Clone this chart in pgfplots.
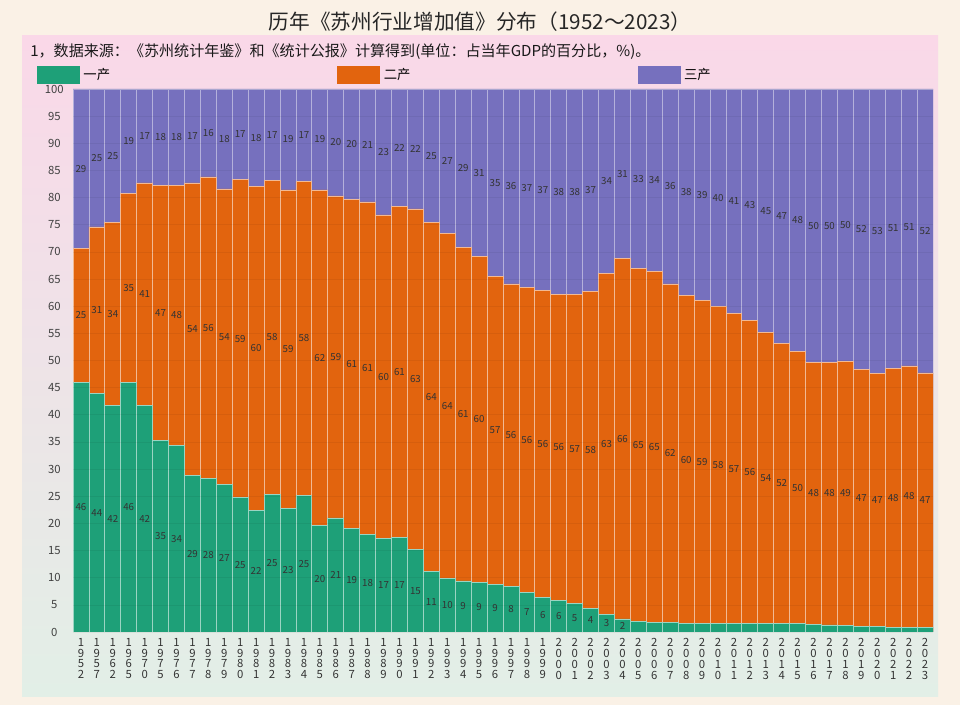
\documentclass[border=0pt]{standalone}
\usepackage{pgfplots}
\pgfplotsset{compat=1.18}
\usepackage{pgfplotstable}
\usepackage{fontspec}
\setmainfont{Noto Sans CJK SC}
\definecolor{cP}{RGB}{30,160,120}
\definecolor{cS}{RGB}{226,100,14}
\definecolor{cT}{RGB}{118,112,190}
\definecolor{bgout}{RGB}{250,241,230}
\definecolor{bgtop}{RGB}{250,216,232}
\definecolor{bgbot}{RGB}{226,239,231}
\def\vd#1#2#3#4{#1\\#2\\#3\\#4}
\pgfplotstableread[col sep=comma]{
idx,p,s,t,pl,sl,tl
0,45.9,24.8,29.3,46,25,29
1,44.0,30.6,25.4,44,31,25
2,41.7,33.7,24.6,42,34,25
3,45.9,34.8,19.3,46,35,19
4,41.7,41.0,17.3,42,41,17
5,35.3,47.0,17.7,35,47,18
6,34.3,48.0,17.7,34,48,18
7,28.8,53.9,17.3,29,54,17
8,28.2,55.6,16.2,28,56,16
9,27.2,54.4,18.4,27,54,18
10,24.7,58.6,16.7,25,59,17
11,22.4,59.7,17.9,22,60,18
12,25.3,57.9,16.8,25,58,17
13,22.8,58.6,18.6,23,59,19
14,25.2,57.7,17.1,25,58,17
15,19.6,61.8,18.6,20,62,19
16,21.0,59.3,19.7,21,59,20
17,19.0,60.7,20.3,19,61,20
18,17.9,61.3,20.8,18,61,21
19,17.2,59.6,23.2,17,60,23
20,17.4,60.9,21.7,17,61,22
21,15.2,62.7,22.1,15,63,22
22,11.2,64.2,24.6,11,64,25
23,9.8,63.6,26.6,10,64,27
24,9.4,61.5,29.1,9,61,29
25,9.1,60.1,30.8,9,60,31
26,8.8,56.6,34.6,9,57,35
27,8.4,55.7,35.9,8,56,36
28,7.2,56.2,36.6,7,56,37
29,6.4,56.5,37.1,6,56,37
30,5.8,56.4,37.8,6,56,38
31,5.2,56.9,37.9,5,57,38
32,4.3,58.4,37.3,4,58,37
33,3.3,62.7,34.0,3,63,34
34,2.4,66.4,31.2,2,66,31
35,2.0,65.0,33.0,,65,33
36,1.8,64.6,33.6,,65,34
37,1.7,62.4,35.9,,62,36
38,1.6,60.3,38.1,,60,38
39,1.6,59.4,39.0,,59,39
40,1.6,58.3,40.1,,58,40
41,1.5,57.1,41.4,,57,41
42,1.5,55.8,42.7,,56,43
43,1.5,53.7,44.8,,54,45
44,1.5,51.7,46.8,,52,47
45,1.5,50.1,48.4,,50,48
46,1.4,48.3,50.3,,48,50
47,1.3,48.4,50.3,,48,50
48,1.2,48.7,50.1,,49,50
49,1.0,47.4,51.6,,47,52
50,1.0,46.6,52.4,,47,53
51,0.9,47.7,51.4,,48,51
52,0.9,48.1,51.0,,48,51
53,0.8,46.9,52.3,,47,52
}\data
\begin{document}
\begin{tikzpicture}[x=1pt,y=1pt]
\fill[bgout] (0,0) rectangle (720,528.75);
\shade[top color=bgtop,bottom color=bgbot,middle color=bgtop!50!bgbot] (16.5,6) rectangle (703.5,501.75);
\node[font=\fontsize{15.5}{15.5}\selectfont, text=black!85] at (360,512.25) {历年《苏州行业增加值》分布（1952～2023）};
\node[anchor=west, font=\fontsize{11.3}{11.3}\selectfont, text=black!90, inner sep=0pt] at (22.5,489.75) {1，数据来源：《苏州统计年鉴》和《统计公报》计算得到(单位：占当年GDP的百分比，\%)。};
\begin{axis}[
  at={(54.75pt,54.75pt)}, anchor=south west,
  scale only axis, width=645pt, height=407.25pt,
  xmin=-0.5, xmax=53.5, ymin=0, ymax=100,
  axis line style={draw=none},
  major tick length=0pt,
  ytick={0,5,...,100},
  yticklabel style={font=\fontsize{8.5}{8.5}\selectfont, text=black!75, anchor=center, xshift=-14pt},
  /pgf/number format/assume math mode=true,
  xtick={0,...,53},
  xticklabels={{\vd1952},{\vd1957},{\vd1962},{\vd1965},{\vd1970},{\vd1975},{\vd1976},{\vd1977},{\vd1978},{\vd1979},{\vd1980},{\vd1981},{\vd1982},{\vd1983},{\vd1984},{\vd1985},{\vd1986},{\vd1987},{\vd1988},{\vd1989},{\vd1990},{\vd1991},{\vd1992},{\vd1993},{\vd1994},{\vd1995},{\vd1996},{\vd1997},{\vd1998},{\vd1999},{\vd2000},{\vd2001},{\vd2002},{\vd2003},{\vd2004},{\vd2005},{\vd2006},{\vd2007},{\vd2008},{\vd2009},{\vd2010},{\vd2011},{\vd2012},{\vd2013},{\vd2014},{\vd2015},{\vd2016},{\vd2017},{\vd2018},{\vd2019},{\vd2020},{\vd2021},{\vd2022},{\vd2023}},
  xticklabel style={font=\fontsize{8.5}{8.2}\selectfont, align=center, text=black!80, anchor=north, yshift=-1pt},
  ymajorgrids, grid style={black, opacity=0.05, line width=0.5pt},
  axis on top,
  legend style={at={(-0.042,1.026)}, anchor=west, draw=none, fill=none, inner sep=0pt,
    legend columns=3, font=\fontsize{10}{10}\selectfont, column sep=0pt,
    nodes={inner xsep=2.5pt, inner ysep=0pt}},
  legend cell align=left,
  legend image code/.code={\fill[#1, draw=none] (0pt,-6.75pt) rectangle (32.25pt,6.75pt);},
  every node near coord/.style={anchor=center, font=\fontsize{7.3}{7.3}\selectfont, text=black!80, inner sep=0pt},
]
\addplot[ybar, bar width=1, bar shift=0pt, fill=cT, draw=cT!55!white, line width=0.6pt, area legend, forget plot]
  table[x=idx, y expr=\thisrow{p}+\thisrow{s}+\thisrow{t}] {\data};
\addplot[ybar, bar width=1, bar shift=0pt, fill=cS, draw=cS!45!white, line width=0.6pt, forget plot]
  table[x=idx, y expr=\thisrow{p}+\thisrow{s}] {\data};
\addplot[ybar, bar width=1, bar shift=0pt, fill=cP, draw=cP!45!white, line width=0.6pt, forget plot]
  table[x=idx, y=p] {\data};
\addlegendimage{fill=cP, draw=none}
\addlegendentry{\makebox[188pt][l]{一产}}
\addlegendimage{fill=cS, draw=none}
\addlegendentry{\makebox[188pt][l]{二产}}
\addlegendimage{fill=cT, draw=none}
\addlegendentry{三产}
\addplot[only marks, mark=none, nodes near coords, point meta=explicit symbolic, forget plot]
  table[x=idx, y expr=\thisrow{p}/2, meta=pl] {\data};
\addplot[only marks, mark=none, nodes near coords, point meta=explicit symbolic, forget plot]
  table[x=idx, y expr=\thisrow{p}+\thisrow{s}/2, meta=sl] {\data};
\addplot[only marks, mark=none, nodes near coords, point meta=explicit symbolic, forget plot]
  table[x=idx, y expr=\thisrow{p}+\thisrow{s}+\thisrow{t}/2, meta=tl] {\data};
\end{axis}
\end{tikzpicture}
\end{document}
